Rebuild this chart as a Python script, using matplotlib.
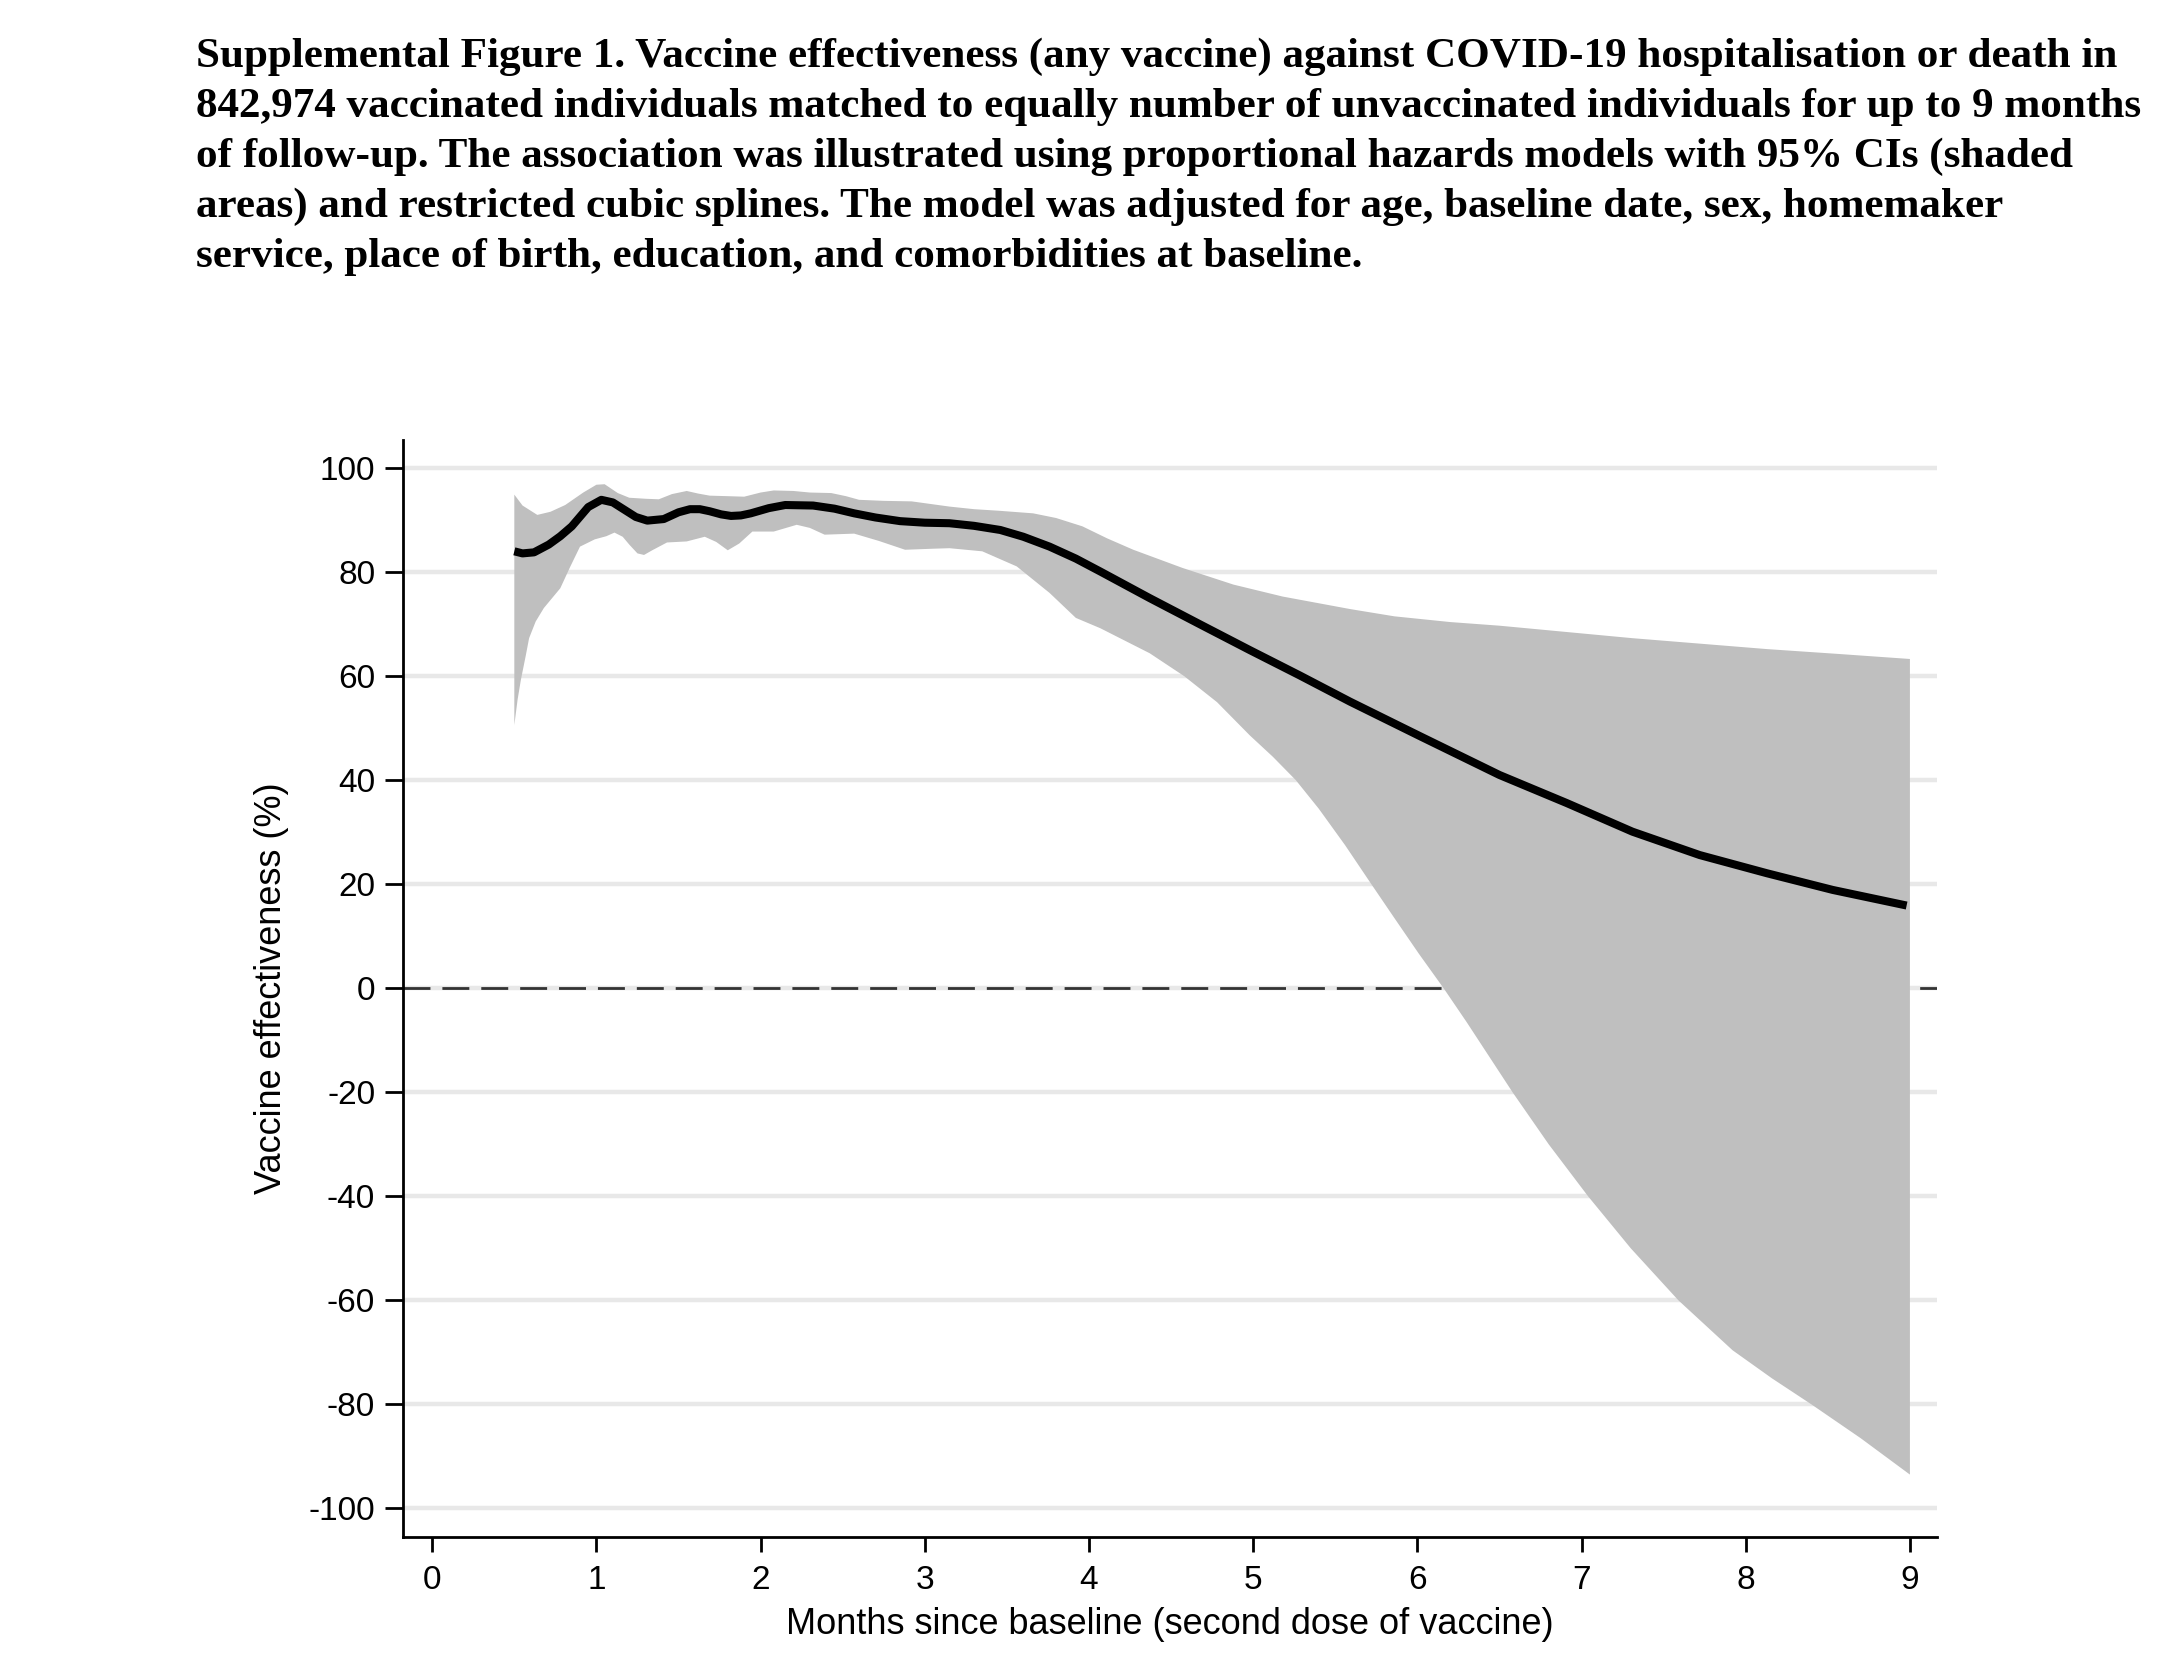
import matplotlib
matplotlib.use("Agg")
import matplotlib.pyplot as plt

plt.rcParams["axes.unicode_minus"] = False

# values (months since baseline, VE %)
line_months = [0.50, 0.55, 0.62, 0.71, 0.78, 0.85, 0.95, 1.03, 1.10, 1.17, 1.24, 1.31,
               1.41, 1.50, 1.57, 1.63, 1.69, 1.76, 1.82, 1.88, 1.94, 2.05, 2.15, 2.32,
               2.45, 2.57, 2.70, 2.85, 3.00, 3.15, 3.30, 3.46, 3.60, 3.76, 3.92, 4.07,
               4.37, 4.68, 4.98, 5.28, 5.59, 6.02, 6.50, 6.91, 7.31, 7.72, 8.13, 8.53,
               8.98]
line_ve = [84.0, 83.6, 83.8, 85.3, 86.9, 88.8, 92.5, 93.9, 93.4, 92.0, 90.6, 89.9,
           90.2, 91.5, 92.1, 92.1, 91.7, 91.1, 90.8, 90.9, 91.3, 92.3, 92.9, 92.8,
           92.2, 91.3, 90.5, 89.8, 89.5, 89.4, 88.9, 88.1, 86.8, 84.9, 82.6, 80.1,
           75.0, 69.9, 65.0, 60.2, 55.1, 48.4, 41.0, 35.6, 30.1, 25.6, 22.1, 18.9,
           15.9]

upper_months = [0.50, 0.55, 0.64, 0.72, 0.81, 0.92, 1.00, 1.05, 1.13, 1.20, 1.30, 1.38,
                1.46, 1.55, 1.62, 1.69, 1.80, 1.90, 2.00, 2.08, 2.20, 2.30, 2.43, 2.52,
                2.60, 2.75, 2.92, 3.15, 3.30, 3.45, 3.66, 3.80, 3.96, 4.11, 4.27, 4.57,
                4.88, 5.18, 5.59, 5.86, 6.20, 6.50, 7.31, 8.13, 8.55, 9.00]
upper_ve = [94.9, 92.8, 91.0, 91.6, 92.9, 95.3, 96.8, 96.9, 95.2, 94.3, 94.1, 94.0,
            95.0, 95.6, 95.1, 94.7, 94.6, 94.5, 95.3, 95.7, 95.6, 95.3, 95.2, 94.6,
            93.9, 93.7, 93.6, 92.6, 92.1, 91.8, 91.3, 90.4, 88.8, 86.5, 84.3, 80.8,
            77.6, 75.3, 72.9, 71.5, 70.4, 69.7, 67.3, 65.2, 64.3, 63.3]

lower_months = [0.50, 0.52, 0.54, 0.57, 0.59, 0.63, 0.68, 0.78, 0.84, 0.90, 0.99, 1.06,
                1.11, 1.16, 1.20, 1.25, 1.29, 1.34, 1.43, 1.55, 1.66, 1.73, 1.80, 1.87,
                1.95, 2.08, 2.22, 2.30, 2.39, 2.57, 2.72, 2.88, 3.05, 3.15, 3.35, 3.56,
                3.76, 3.92, 4.07, 4.37, 4.58, 4.78, 4.98, 5.12, 5.26, 5.40, 5.56, 5.72,
                5.86, 6.01, 6.16, 6.30, 6.58, 6.80, 7.04, 7.30, 7.59, 7.92, 8.16, 8.40,
                8.70, 9.00]
lower_ve = [50.6, 55.5, 59.3, 64.0, 67.3, 70.5, 73.1, 76.9, 81.0, 84.9, 86.3, 86.9,
            87.6, 86.8, 85.3, 83.6, 83.3, 84.2, 85.7, 85.9, 86.8, 85.8, 84.2, 85.5,
            87.8, 87.8, 89.1, 88.5, 87.2, 87.4, 86.0, 84.3, 84.5, 84.6, 84.0, 81.1,
            76.0, 71.2, 69.2, 64.4, 60.0, 55.0, 48.6, 44.5, 40.0, 34.5, 27.5, 20.0,
            13.5, 6.6, 0.0, -6.5, -20.0, -30.0, -40.0, -50.0, -60.0, -69.6, -75.0, -80.0,
            -86.5, -93.5]

x_ticks = list(range(0, 10))
y_ticks = list(range(-100, 101, 20))

title_lines = [
    "Supplemental Figure 1. Vaccine effectiveness (any vaccine) against COVID-19 hospitalisation or death in",
    "842,974 vaccinated individuals matched to equally number of unvaccinated individuals for up to 9 months",
    "of follow-up. The association was illustrated using proportional hazards models with 95% CIs (shaded",
    "areas) and restricted cubic splines. The model was adjusted for age, baseline date, sex, homemaker",
    "service, place of birth, education, and comorbidities at baseline.",
]

W, H = 2162, 1663
fig = plt.figure(figsize=(W / 100, H / 100), dpi=100)
ax = fig.add_axes([403 / W, 1 - 1537 / H, (1937 - 403) / W, (1537 - 440) / H])

sans = ["Liberation Sans", "DejaVu Sans"]
serif = ["Liberation Serif", "DejaVu Serif"]

# grid
for yv in y_ticks:
    ax.axhline(yv, color="#e8e8e8", lw=3.2, zorder=0)
ax.axhline(0, color="#333333", lw=2.0, dashes=(9.7, 4.3), zorder=1)

# CI band as polygon (upper forward, lower backward)
poly_x = upper_months + lower_months[::-1]
poly_y = upper_ve + lower_ve[::-1]
ax.fill(poly_x, poly_y, color="#bfbfbf", lw=0, zorder=2)

ax.plot(line_months, line_ve, color="black", lw=5.8, zorder=3,
        solid_capstyle="butt", solid_joinstyle="round")

ax.set_xlim(-0.178, 9.165)
ax.set_ylim(-105.5, 105.4)
ax.set_xticks(x_ticks)
ax.set_yticks(y_ticks)

for s in ["top", "right"]:
    ax.spines[s].set_visible(False)
for s in ["left", "bottom"]:
    ax.spines[s].set_linewidth(2.0)

ax.tick_params(axis="y", length=13, width=2.0, pad=7, labelsize=24)
ax.tick_params(axis="x", length=11, width=2.0, pad=9, labelsize=24)
for lab in ax.get_xticklabels() + ax.get_yticklabels():
    lab.set_family(sans)

ax.set_xlabel("Months since baseline (second dose of vaccine)", fontsize=26,
              family=sans, labelpad=8)
ax.set_ylabel("Vaccine effectiveness (%)", fontsize=26, family=sans, labelpad=14)

for i, t in enumerate(title_lines):
    fig.text(196 / W, 1 - (66.7 + 50 * i) / H, t, fontsize=31.1, fontweight="bold",
             family=serif, ha="left", va="baseline")

fig.savefig("out.png", dpi=100, facecolor="white")
